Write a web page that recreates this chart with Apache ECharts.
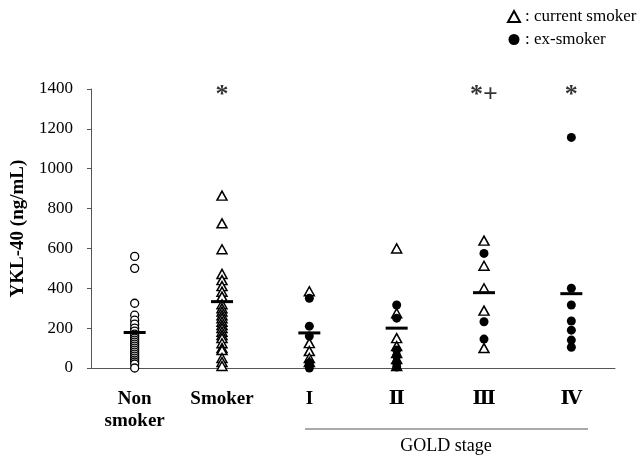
<!DOCTYPE html>
<html>
<head>
<meta charset="utf-8">
<script src="https://cdn.jsdelivr.net/npm/echarts@6/dist/echarts.min.js"></script>
<style>
  html, body { margin: 0; padding: 0; background: #fff; }
  #chart { width: 640px; height: 455px; }
</style>
</head>
<body>
<div id="chart"></div>
<script>
// 分组
var categories = ['Non\nsmoker', 'Smoker', 'I', 'Ⅱ', 'Ⅲ', 'Ⅳ'];
// 各组数值 (ng/mL)
var nonSmokerVals = [560, 500, 325, 265, 240, 220, 200, 185, 170, 160, 150, 140, 130, 120, 110, 100, 90, 80, 70, 60, 50, 40, 30, 20, 0];
var smokerVals = [865, 726, 596, 472, 441, 411, 383, 358, 320, 300, 283, 265, 250, 232, 215, 200, 182, 165, 150, 124, 100, 90, 50, 30, 10];
var currentI = [385, 125, 85, 50, 30];
var exI = [350, 210, 160, 25, 0];
var currentII = [600, 275, 150, 110, 75, 45, 10];
var exII = [316, 250, 90, 60, 25, 5];
var currentIII = [639, 513, 400, 288, 100];
var exIII = [575, 232, 145];
var exIV = [1157, 400, 316, 236, 190, 140, 104];
// 平均值横线
var meanVals = [178, 333, 176, 200, 378, 373];
// 显著性标记
var sigCats = [1, 4, 5];
var sigText = ['*', '*+', '*'];
var sigLevel = 1400;

function toPoints(cat, vals) {
    return vals.map(function (v) { return [cat, v]; });
}

var serif = '"Liberation Serif", "DejaVu Serif", serif';

var currentData = [].concat(
    toPoints(1, smokerVals),
    toPoints(2, currentI),
    toPoints(3, currentII),
    toPoints(4, currentIII)
);
var exData = [].concat(
    toPoints(2, exI),
    toPoints(3, exII),
    toPoints(4, exIII),
    toPoints(5, exIV)
);

var myChart = echarts.init(document.getElementById('chart'));
var option = {
    animation: false,
    backgroundColor: '#fff',
    grid: { left: 91, right: 25, top: 89, bottom: 87, containLabel: false, outerBoundsMode: 'none' },
    legend: {
        orient: 'vertical',
        left: 502,
        top: 3,
        itemWidth: 12,
        itemHeight: 11,
        itemGap: 6,
        formatter: ': {name}',
        textStyle: { fontFamily: serif, fontSize: 17, color: '#000' },
        data: [
            { name: 'current smoker', icon: 'triangle' },
            { name: 'ex-smoker', icon: 'circle' }
        ]
    },
    xAxis: {
        type: 'category',
        data: categories,
        boundaryGap: true,
        axisLine: { lineStyle: { color: '#555', width: 1 } },
        axisTick: { inside: true, length: 5, lineStyle: { color: '#555' } },
        axisLabel: {
            interval: 0,
            margin: 20,
            color: '#000',
            fontFamily: serif,
            fontWeight: 'bold',
            fontSize: 19,
            lineHeight: 22
        },
        splitLine: { show: false }
    },
    yAxis: {
        type: 'value',
        min: 0,
        max: 1400,
        interval: 200,
        name: 'YKL-40 (ng/mL)',
        nameLocation: 'middle',
        nameRotate: 90,
        nameGap: 63,
        nameTextStyle: { fontFamily: serif, fontWeight: 'bold', fontSize: 19, color: '#000' },
        axisLine: { show: true, lineStyle: { color: '#555', width: 1 } },
        axisTick: { show: true, length: 4, lineStyle: { color: '#555' } },
        axisLabel: {
            margin: 18,
            color: '#000',
            fontFamily: serif,
            fontSize: 17,
            formatter: function (v) { return String(v); }
        },
        splitLine: { show: false }
    },
    series: [
        {
            name: 'non-smoker',
            type: 'scatter',
            symbol: 'circle',
            symbolSize: 8,
            itemStyle: { color: '#fff', borderColor: '#000', borderWidth: 1.3, opacity: 1 },
            data: toPoints(0, nonSmokerVals)
        },
        {
            name: 'current smoker',
            type: 'scatter',
            symbol: 'triangle',
            symbolSize: [10, 9],
            itemStyle: { color: '#fff', borderColor: '#000', borderWidth: 1.5, opacity: 1 },
            data: currentData
        },
        {
            name: 'ex-smoker',
            type: 'scatter',
            symbol: 'circle',
            symbolSize: 9,
            itemStyle: { color: '#000', opacity: 1 },
            data: exData
        },
        {
            name: 'mean',
            type: 'scatter',
            symbol: 'rect',
            symbolSize: [22, 3],
            itemStyle: { color: '#000', opacity: 1 },
            z: 5,
            data: meanVals.map(function (v, i) { return [i, v]; })
        },
        {
            name: 'sig',
            type: 'scatter',
            symbolSize: 1,
            itemStyle: { color: 'rgba(0,0,0,0)' },
            label: {
                show: true,
                position: 'inside',
                offset: [0, 6],
                color: '#000',
                fontFamily: serif,
                fontWeight: 'bold',
                fontSize: 26,
                formatter: function (p) { return sigText[p.dataIndex]; }
            },
            data: sigCats.map(function (c) { return [c, sigLevel]; })
        }
    ],
    graphic: [
        {
            type: 'line',
            shape: { x1: 305, y1: 429, x2: 588, y2: 429 },
            style: { stroke: '#555', lineWidth: 1 }
        },
        {
            type: 'text',
            x: 446,
            y: 446,
            style: {
                text: 'GOLD stage',
                fill: '#000',
                font: '18px ' + serif,
                textAlign: 'center',
                textVerticalAlign: 'middle'
            }
        }
    ]
};
myChart.setOption(option);
window.onresize = myChart.resize;
</script>
</body>
</html>
